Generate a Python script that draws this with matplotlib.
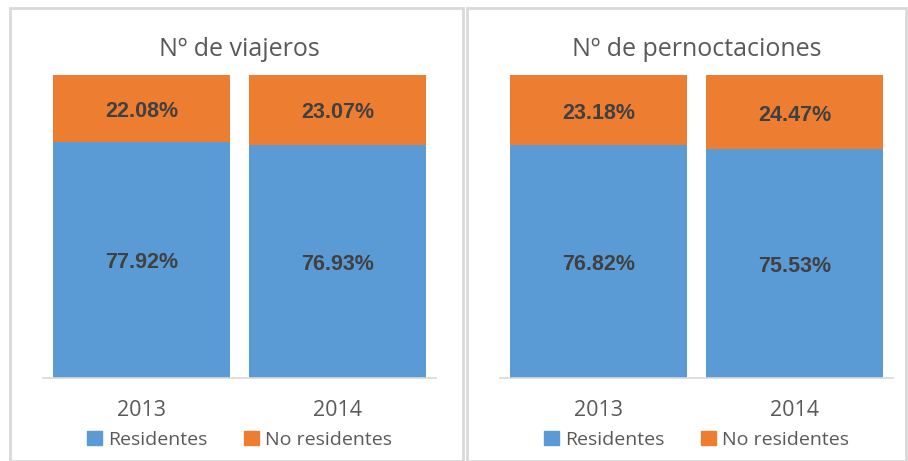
import matplotlib.pyplot as plt
from matplotlib.patches import Rectangle, Patch

years = ["2013", "2014"]
titles = ["Nº de viajeros", "Nº de pernoctaciones"]
residentes = [[77.92, 76.93], [76.82, 75.53]]
no_residentes = [[22.08, 23.07], [23.18, 24.47]]

blue = "#5b9bd5"
orange = "#ed7d31"
grey_txt = "#595959"
dark_txt = "#404040"
line_col = "#d9d9d9"

plt.rcParams['font.family'] = ['Open Sans', 'DejaVu Sans']

W, H = 908, 461
fig = plt.figure(figsize=(W / 100, H / 100), dpi=100)

# panel borders (pixel coords -> figure fractions)
for (x0, x1) in [(10, 463), (467, 906)]:
    fig.patches.append(Rectangle((x0 / W, 0), (x1 - x0) / W, (H - 8) / H,
                                 transform=fig.transFigure, fill=False,
                                 edgecolor=line_col, linewidth=2))

ax_left = [43, 500]
for i in range(2):
    ax = fig.add_axes([ax_left[i] / W, (H - 378) / H, 393 / W, 303 / H])
    x = [0, 1]
    ax.bar(x, residentes[i], width=0.903, color=blue, label="Residentes")
    ax.bar(x, no_residentes[i], width=0.903, bottom=residentes[i],
           color=orange, label="No residentes")
    for j in range(2):
        ax.text(x[j], residentes[i][j] / 2 - 1, f"{residentes[i][j]:.2f}%",
                ha='center', va='center', fontsize=15.5, fontweight='bold',
                color=dark_txt, family='Liberation Sans')
        ax.text(x[j], residentes[i][j] + no_residentes[i][j] / 2 - 1,
                f"{no_residentes[i][j]:.2f}%", ha='center', va='center',
                fontsize=15.5, fontweight='bold', color=dark_txt,
                family='Liberation Sans')
    ax.set_xlim(-0.5026, 1.5026)
    ax.set_ylim(0, 100)
    ax.set_xticks(x)
    ax.set_xticklabels(years, fontsize=15.5, color=grey_txt)
    ax.tick_params(axis='x', length=0, pad=16)
    ax.set_yticks([])
    for s in ['top', 'right', 'left']:
        ax.spines[s].set_visible(False)
    ax.spines['bottom'].set_color(line_col)
    ax.spines['bottom'].set_linewidth(1.2)
    ax.set_title(titles[i], fontsize=18, color=grey_txt, pad=14)
    handles = [Patch(color=blue, label="Residentes"),
               Patch(color=orange, label="No residentes")]
    leg = ax.legend(handles=handles, loc='center', bbox_to_anchor=(0.5, -0.205),
                    ncol=2, frameon=False, fontsize=14, handlelength=0.75,
                    handleheight=0.75, handletextpad=0.3, columnspacing=1.9)
    for t in leg.get_texts():
        t.set_color(grey_txt)

fig.savefig("out.png", dpi=100)
